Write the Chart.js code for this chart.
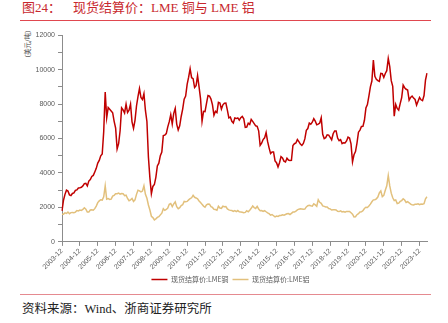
<!DOCTYPE html>
<html>
<head>
<meta charset="utf-8">
<script src="https://cdn.jsdelivr.net/npm/chart.js@4.4.1/dist/chart.umd.min.js"></script>
<style>
  html, body { margin: 0; padding: 0; background: #fff; }
  body { width: 448px; height: 323px; position: relative; overflow: hidden; }
  .serif { font-family: "Liberation Serif", "DejaVu Serif", "Noto Sans CJK SC", serif; }
  #t1, #t2 { position: absolute; top: 1px; font-size: 13px; line-height: 14px; color: #c8282e; white-space: nowrap; }
  #t1 { left: 22px; }
  #t2 { left: 73px; }
  #topline { position: absolute; left: 20px; top: 20px; width: 411px; height: 1px; background: #e0474f; }
  #botline { position: absolute; left: 20px; top: 294px; width: 411px; height: 1px; background: #e58a90; }
  #src { position: absolute; left: 22px; top: 302px; font-size: 12.5px; line-height: 14px; color: #222; white-space: nowrap; }
  #unit { position: absolute; left: 27px; top: 44px; font-family: "Noto Sans CJK SC", sans-serif; font-size: 6.5px; color: #444;
          transform: translate(-50%, -50%) rotate(-90deg); white-space: nowrap; }
  #wrap { position: absolute; left: 0; top: 28px; width: 448px; height: 265px; }
</style>
</head>
<body>
<div id="t1" class="serif">图24：</div>
<div id="t2" class="serif">现货结算价：LME 铜与 LME 铝</div>
<div id="topline"></div>
<div id="unit">（美元/吨）</div>
<div id="wrap"><canvas id="c"></canvas></div>
<div id="botline"></div>
<div id="src" class="serif">资料来源：Wind、浙商证券研究所</div>
<script>
// Monthly categories from 2003-12 to 2024-05
const startYear = 2003, startMonth = 12, endYear = 2024, endMonth = 5;
const months = [];
for (let y = startYear, m = startMonth; y < endYear || (y === endYear && m <= endMonth); ) {
  months.push(y + '-' + String(m).padStart(2, '0'));
  m++; if (m > 12) { m = 1; y++; }
}

const seriesNames = ['现货结算价:LME铜', '现货结算价:LME铝'];

const copper = [
  1800,
  2420, 2760, 3000, 2950, 2730, 2690, 2810, 2840, 2990, 3020, 3130, 3140,
  3170, 3250, 3380, 3400, 3250, 3530, 3620, 3800, 3860, 4060, 4270, 4580,
  4730, 5000, 5100, 6400, 8700, 7200, 7800, 7700, 7600, 7500, 7000, 6600,
  5400, 5700, 6450, 7780, 7660, 7480, 8000, 7510, 7650, 8000, 6970, 6590,
  7060, 7890, 8440, 8900, 8380, 8260, 8600, 7630, 6990, 4930, 3720, 2800,
  3220, 3330, 3750, 4410, 4570, 5010, 5220, 6170, 6200, 6290, 6680, 6980,
  7390, 6850, 7460, 7750, 6840, 6500, 6740, 7280, 7710, 8290, 8470, 9150,
  9560, 10050, 9530, 9480, 8960, 9070, 9650, 9000, 8300, 7000, 7580, 7560,
  8040, 8500, 8470, 8290, 7960, 7350, 7580, 7510, 8100, 8060, 7710, 7960,
  8050, 8060, 7650, 7200, 7250, 7000, 6900, 7190, 7160, 7200, 7070, 7210,
  7290, 7150, 6650, 6670, 6890, 6820, 7110, 7000, 6870, 6740, 6710, 6450,
  5600, 5730, 5940, 6040, 6350, 5830, 5460, 5130, 5220, 5220, 4700, 4600,
  4350, 4600, 4950, 4870, 4690, 4640, 4860, 4750, 4720, 4730, 5600, 5700,
  5740, 5940, 5820, 5680, 5600, 5720, 5980, 6480, 6580, 6900, 6830, 6950,
  7150, 7010, 6800, 6840, 6900, 7200, 6250, 6000, 6050, 6220, 6200, 6070,
  5930, 6280, 6440, 6440, 6030, 5880, 5940, 5710, 5760, 5740, 5860, 6080,
  6030, 5690, 4650, 5060, 5240, 5740, 6370, 6490, 6700, 6710, 7060, 7770,
  7970, 8460, 9000, 9340, 10550, 9610, 9440, 9360, 9320, 9780, 9770, 9550,
  9780, 9940, 10650, 10180, 9360, 9030, 7300, 7980, 7750, 7650, 8030, 8370,
  9100, 8950, 8860, 8820, 8230, 8390, 8470, 8350, 8270, 7940, 8170, 8390,
  8250, 8200, 8500, 9400, 9800
];

const aluminum = [
  1600,
  1610, 1690, 1650, 1730, 1640, 1700, 1710, 1690, 1730, 1820, 1800, 1850,
  1830, 1880, 1980, 1900, 1730, 1730, 1850, 1870, 1840, 1930, 2080, 2280,
  2380, 2450, 2430, 2620, 3250, 2480, 2510, 2460, 2480, 2660, 2700, 2790,
  2800, 2830, 2770, 2810, 2800, 2680, 2710, 2520, 2390, 2440, 2520, 2350,
  2440, 2760, 3000, 2960, 2900, 2950, 3250, 2760, 2530, 2140, 1850, 1490,
  1410, 1280, 1340, 1420, 1460, 1570, 1670, 1930, 1830, 1880, 1960, 2180,
  2230, 2050, 2210, 2320, 2040, 1930, 1990, 2110, 2160, 2350, 2330, 2350,
  2440, 2510, 2560, 2700, 2590, 2550, 2500, 2380, 2290, 2180, 2080, 2020,
  2150, 2200, 2190, 2050, 2000, 1890, 1880, 1840, 2070, 1970, 1950, 2070,
  2040, 2050, 1910, 1860, 1830, 1820, 1770, 1820, 1760, 1820, 1750, 1740,
  1720, 1690, 1710, 1810, 1750, 1840, 1950, 2080, 1990, 1940, 2060, 1910,
  1810, 1820, 1770, 1820, 1750, 1690, 1640, 1550, 1590, 1520, 1450, 1500,
  1480, 1530, 1530, 1570, 1550, 1590, 1630, 1640, 1590, 1660, 1730, 1730,
  1790, 1860, 1900, 1920, 1910, 1890, 1900, 2030, 2100, 2130, 2100, 2080,
  2210, 2150, 2070, 2450, 2300, 2240, 2090, 2060, 2030, 2030, 1940, 1920,
  1850, 1870, 1870, 1850, 1780, 1760, 1800, 1740, 1760, 1720, 1770, 1770,
  1770, 1690, 1610, 1450, 1460, 1580, 1640, 1740, 1750, 1810, 1940, 2010,
  2000, 2080, 2190, 2330, 2440, 2450, 2500, 2600, 2840, 2960, 2630, 2700,
  3000, 3260, 3850, 3250, 2830, 2560, 2400, 2430, 2220, 2250, 2350, 2400,
  2500, 2430, 2290, 2340, 2270, 2190, 2160, 2140, 2180, 2190, 2210, 2160,
  2200, 2190, 2220, 2500, 2620
];

const yTicks = [0, 2000, 4000, 6000, 8000, 10000, 12000];

const axisColor = '#8c8c8c';
const textColor = '#595959';
const tickFont = { family: 'Liberation Sans, Arial, sans-serif', size: 7 };

new Chart(document.getElementById('c'), {
  type: 'line',
  data: {
    labels: months,
    datasets: [
      { label: seriesNames[0], data: copper, borderColor: '#c00000', backgroundColor: '#c00000',
        borderWidth: 1.5, pointRadius: 0, tension: 0 },
      { label: seriesNames[1], data: aluminum, borderColor: '#e2c07c', backgroundColor: '#e2c07c',
        borderWidth: 1.5, pointRadius: 0, tension: 0 }
    ]
  },
  options: {
    responsive: true,
    maintainAspectRatio: false,
    animation: false,
    layout: { padding: { left: 34, right: 21, top: 6, bottom: 0 } },
    plugins: {
      tooltip: { enabled: false },
      legend: {
        position: 'bottom',
        labels: {
          usePointStyle: true, pointStyle: 'line', pointStyleWidth: 16,
          font: { family: 'Noto Sans CJK SC, sans-serif', size: 7 },
          color: textColor, padding: 4, boxHeight: 7
        }
      }
    },
    scales: {
      x: {
        type: 'category',
        offset: false,
        grid: { display: true, drawOnChartArea: false, drawTicks: true, tickLength: 4, color: axisColor },
        border: { display: true, color: axisColor },
        ticks: {
          autoSkip: false, maxRotation: 45, minRotation: 45, padding: 1,
          font: tickFont, color: textColor,
          callback: function (v, i) { const l = months[i]; return l.endsWith('-12') ? l : null; }
        }
      },
      y: {
        min: 0, max: 12000,
        afterFit: function (s) { s.width = 28; },
        grid: { display: true, drawOnChartArea: false, drawTicks: true, tickLength: 4, color: axisColor },
        border: { display: true, color: axisColor },
        ticks: {
          stepSize: 1000, padding: 3, font: tickFont, color: textColor,
          callback: function (v) { return yTicks.includes(v) ? String(v) : ''; }
        }
      }
    }
  }
});
</script>
</body>
</html>
